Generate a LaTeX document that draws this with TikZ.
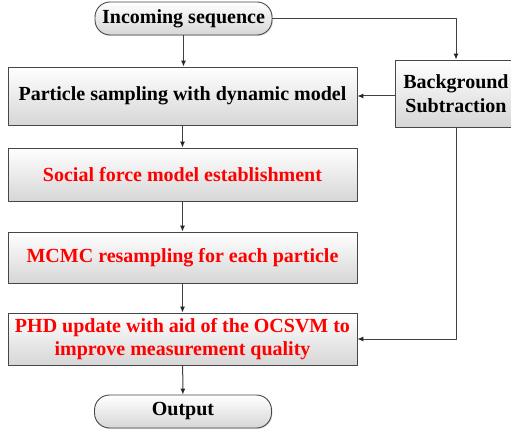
\documentclass[tikz,border=0pt]{standalone}
\usepackage{fontspec}
\setmainfont{Liberation Serif}
\usetikzlibrary{positioning,calc,arrows.meta,shadows}

\begin{document}
\begin{tikzpicture}[x=1pt,y=1pt, font=\fontsize{20}{23.5}\selectfont\bfseries, line cap=round, line join=round]
				% ===== khung =====
				\useasboundingbox (0,0) rectangle (511,434);
				
				% ===== style =====
				\tikzset{
					blok/.style={draw=gray!55!black, line width=0.9pt, top color=white, bottom color=gray!32, inner sep=0pt, align=center, minimum width=349pt, drop shadow={shadow xshift=1pt, shadow yshift=-1pt, opacity=0.25}},
					term/.style={blok, rounded corners=15pt, minimum width=177pt, minimum height=33pt},
					redtxt/.style={text=red},
					conn/.style={draw=gray!50!black, line width=1pt, -{Latex[length=6pt,width=5pt,color=black!85,fill=black!85]}}
				}
				
				% ===== cac khoi =====
				\node[term] (inc) at (183.5,415.5) {Incoming sequence};
				\node[blok, minimum height=58pt] (part) at (182.5,338) {Particle sampling with dynamic model};
				\node[blok, minimum width=122pt, minimum height=67pt] (bg) at (456,340.5) {Background\\Subtraction};
				\node[blok, redtxt, minimum height=53pt] (soc) at (182.5,259.5) {Social force model establishment};
				\node[blok, redtxt, minimum height=51pt] (mcmc) at (182.5,176.5) {MCMC resampling for each particle};
				\node[blok, redtxt, minimum height=52pt] (phd) at (182.5,95) {PHD update with aid of the OCSVM to\\improve measurement quality};
				\node[term] (out) at (183,22.5) {Output};
				
				% ===== mui ten =====
				\draw[conn] (inc.south) -- (inc.south |- part.north);
				\foreach \a/\b in {part/soc, soc/mcmc, mcmc/phd, phd/out}{
					\draw[conn] (\a) -- (\b);
				}
				\draw[conn] (inc.east) -| (bg.north);
				\draw[conn] (bg.west |- part.east) -- (part.east);
				\draw[conn] (bg.south) |- (phd.east);
			\end{tikzpicture}
\end{document}
